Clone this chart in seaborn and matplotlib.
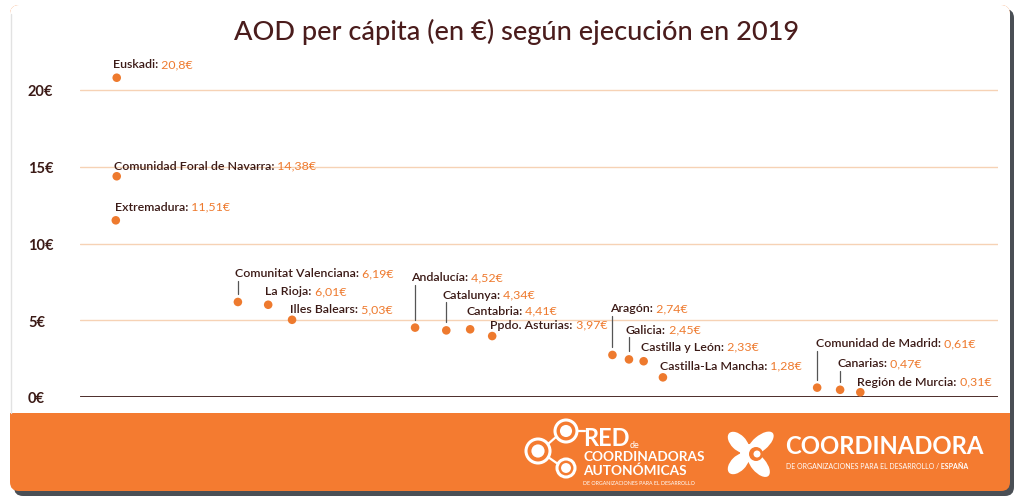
import matplotlib
matplotlib.use("Agg")
import matplotlib.pyplot as plt
from matplotlib.patches import FancyBboxPatch, Rectangle, Circle, Ellipse
import seaborn as sns
import pandas as pd
import numpy as np

# ---------------- data ----------------
regions = ["Euskadi", "Comunidad Foral de Navarra", "Extremadura",
           "Comunitat Valenciana", "La Rioja", "Illes Balears",
           "Andalucía", "Catalunya", "Cantabria", "Ppdo. Asturias",
           "Aragón", "Galicia", "Castilla y León", "Castilla-La Mancha",
           "Comunidad de Madrid", "Canarias", "Región de Murcia"]
values = [20.8, 14.38, 11.51,
          6.19, 6.01, 5.03,
          4.52, 4.34, 4.41, 3.97,
          2.74, 2.45, 2.33, 1.28,
          0.61, 0.47, 0.31]
value_labels = ["20,8€", "14,38€", "11,51€",
                "6,19€", "6,01€", "5,03€",
                "4,52€", "4,34€", "4,41€", "3,97€",
                "2,74€", "2,45€", "2,33€", "1,28€",
                "0,61€", "0,47€", "0,31€"]
y_ticks = [0, 5, 10, 15, 20]
y_tick_labels = ["0€", "5€", "10€", "15€", "20€"]
title = "AOD per cápita (en €) según ejecución en 2019"

# ---------------- layout (positions, not data) ----------------
x_slot = [4.0, 4.0, 3.9,
          17.2, 20.5, 23.1,
          36.5, 39.9, 42.5, 44.9,
          58.0, 59.8, 61.4, 63.5,
          80.3, 82.8, 85.0]
# label offset from its dot, in pixels (x right, y up)
label_dx = [-4, -3, -1, -3, -3, -2, -4, -4, -4, -2, -2, -3, -3, -3, -1, -3, -3]
label_dy = [14, 11, 14, 29, 14, 11, 51, 36, 19, 12, 47, 30, 15, 12, 45, 27, 11]
has_leader = [False, False, False,
              True, False, False,
              True, True, False, False,
              True, True, False, False,
              True, True, False]

ORANGE = "#F47B30"
DOT = "#EE7A2E"
BROWN = "#3B1A16"
GRID = "#F6D2B5"

sns.set_theme(style="white")
plt.rcParams["font.family"] = ["Lato", "DejaVu Sans"]

W, H = 1024, 502
fig = plt.figure(figsize=(W / 100, H / 100), dpi=100, facecolor="white")

# ---------------- background card (pixel coordinate overlay) ----------------
bg = fig.add_axes([0, 0, 1, 1])
bg.set_xlim(0, W)
bg.set_ylim(H, 0)
bg.set_aspect("equal")
bg.axis("off")
bg.set_zorder(0)

bg.add_patch(FancyBboxPatch((14, 10), 1000, 487,
                            boxstyle="round,pad=0,rounding_size=9",
                            facecolor="#4a4f55", edgecolor="none", zorder=0))
bg.add_patch(FancyBboxPatch((10, 6), 1000, 486,
                            boxstyle="round,pad=0,rounding_size=9",
                            facecolor=ORANGE, edgecolor="none", zorder=1))
bg.add_patch(FancyBboxPatch((10, 6), 1000, 434,
                            boxstyle="round,pad=0,rounding_size=9",
                            facecolor="white", edgecolor="none", zorder=2))
bg.add_patch(Rectangle((10, 414), 1000, 56, facecolor=ORANGE,
                       edgecolor="none", zorder=3))
bg.plot([10.5, 10.5], [15, 414], color="#e2e2e2", lw=1, zorder=4)

wc = "white"
# left logo
for (cx, cy, r) in [(538, 452, 12), (566, 432, 11), (566, 469, 9)]:
    bg.add_patch(Circle((cx, cy), r, facecolor="none", edgecolor=wc, lw=2.2, zorder=7))
    bg.add_patch(Circle((cx, cy), r * 0.55, facecolor=wc, edgecolor="none", zorder=7))
for (x0, y0, x1, y1) in [(548, 445, 556, 438), (548, 458, 558, 465), (577, 432, 585, 432)]:
    bg.plot([x0, x1], [y0, y1], color=wc, lw=1.6, zorder=7)
bg.text(583, 439, "RED", ha="left", va="center", fontsize=17,
        fontweight="bold", color=wc, zorder=8)
bg.text(630, 446, "de", ha="left", va="center", fontsize=6.5,
        color=wc, zorder=8)
bg.text(583, 457, "COORDINADORAS", ha="left", va="center", fontsize=9.8,
        fontweight="bold", color=wc, zorder=8)
bg.text(583, 471, "AUTONÓMICAS", ha="left", va="center", fontsize=9.8,
        fontweight="bold", color=wc, zorder=8)
bg.text(583, 484, "DE ORGANIZACIONES PARA EL DESARROLLO", ha="left",
        va="center", fontsize=3.8, color=wc, zorder=8)

# X-shaped symbol (four rounded petals)
C = (749, 454)
for ang, ln in [(-135, 26), (-40, 32), (135, 26), (50, 30)]:
    a = np.deg2rad(ang)
    bg.add_patch(Ellipse((C[0] + 15 * np.cos(a), C[1] + 15 * np.sin(a)), ln, 15,
                         angle=ang, facecolor=wc, edgecolor="none", zorder=7))
bg.add_patch(Circle(C, 9, facecolor=wc, edgecolor="none", zorder=7))
bg.add_patch(Circle((756, 455), 7, facecolor=ORANGE, edgecolor="none", zorder=8))
bg.add_patch(Circle((757, 455), 3.5, facecolor=wc, edgecolor="none", zorder=9))
bg.text(785, 447, "COORDINADORA", ha="left", va="center", fontsize=17.2,
        fontweight="bold", color=wc, zorder=8)
t_sub = bg.text(786, 467, "DE ORGANIZACIONES PARA EL DESARROLLO /", ha="left",
                va="center", fontsize=5.0, color=wc, zorder=8)
bg.annotate(" ESPAÑA", xy=(1, 0), xycoords=t_sub, ha="left", va="bottom",
            fontsize=5.0, fontweight="bold", color=wc, zorder=8)

# ---------------- main axes ----------------
ax_l, ax_r, ax_b, ax_t = 80, 998, 398, 60.3
ax = fig.add_axes([ax_l / W, 1 - ax_b / H, (ax_r - ax_l) / W, (ax_b - ax_t) / H])
ax.set_zorder(5)
ax.patch.set_alpha(0)
ax.set_xlim(0, 100)
ax.set_ylim(0, 22)
ppu = (ax_b - ax_t) / 22.0  # pixels per value unit

df = pd.DataFrame({"region": regions, "value": values, "x": x_slot})

for t in y_ticks[1:]:
    ax.axhline(t, color=GRID, lw=1, zorder=1)
ax.axhline(0, color=BROWN, lw=2, zorder=2)

sns.scatterplot(data=df, x="x", y="value", ax=ax, color=DOT, s=38,
                edgecolor="none", zorder=4, legend=False)
for coll in ax.collections:
    coll.set_clip_on(False)

ax.set_yticks(y_ticks)
ax.set_yticklabels(y_tick_labels)
ax.set_xticks([])
ax.set_xlabel("")
ax.set_ylabel("")
ax.tick_params(axis="y", length=0, pad=37.5, labelsize=10.5, labelcolor=BROWN)
for lbl in ax.get_yticklabels():
    lbl.set_horizontalalignment("left")
    lbl.set_fontweight("bold")
for s in ax.spines.values():
    s.set_visible(False)

for i, name in enumerate(regions):
    t1 = ax.annotate(name + ":", xy=(x_slot[i], values[i]),
                     xytext=(label_dx[i], label_dy[i]), textcoords="offset pixels",
                     ha="left", va="center", fontsize=8.9, color=BROWN,
                     fontweight="semibold", zorder=6, annotation_clip=False)
    ax.annotate(" " + value_labels[i], xy=(1, 0), xycoords=t1,
                ha="left", va="bottom", fontsize=8.9, color=DOT, zorder=6)
    if has_leader[i]:
        top = values[i] + (label_dy[i] - 8) / ppu
        bot = values[i] + 8 / ppu
        ax.plot([x_slot[i], x_slot[i]], [top, bot],
                color="#555555", lw=0.9, zorder=3)

fig.text(0.504, 1 - 32 / H, title, ha="center", va="center", fontsize=19.5,
         fontweight="medium", color="#4A1C1C", zorder=6)

fig.savefig("out.png", dpi=100, facecolor="white")
